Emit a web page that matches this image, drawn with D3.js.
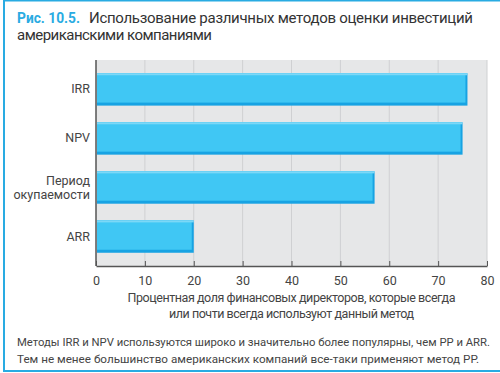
<!DOCTYPE html>
<html>
<head>
<meta charset="utf-8">
<script src="https://cdn.jsdelivr.net/npm/d3@7"></script>
<style>
body { margin: 0; background: #fff; }
text { font-family: Roboto, "Open Sans", sans-serif; }
</style>
</head>
<body>
<div id="chart"></div>
<script>
// data
const methods = ["IRR", "NPV", "Период\nокупаемости", "ARR"];
const shares = [76, 75, 57, 20];
const xTicks = [0, 10, 20, 30, 40, 50, 60, 70, 80];

const svgWidth = 500, svgHeight = 373;
const margin = {top: 60, right: 13, bottom: 107, left: 96};
const width = svgWidth - margin.left - margin.right;
const height = svgHeight - margin.top - margin.bottom;

const svg = d3.select("#chart").append("svg")
  .attr("width", svgWidth)
  .attr("height", svgHeight);

// frame
svg.append("rect").attr("x", 3).attr("y", 0).attr("width", 2).attr("height", 372).attr("fill", "#29abe2");
svg.append("rect").attr("x", 3).attr("y", 0).attr("width", 497).attr("height", 1.5).attr("fill", "#29abe2");
svg.append("rect").attr("x", 3).attr("y", 370).attr("width", 497).attr("height", 2).attr("fill", "#29abe2");

// title
svg.append("text").attr("x", 17).attr("y", 23).style("font-size", "15px")
  .attr("fill", "#29abe2").style("font-weight", "bold")
  .attr("textLength", 63).attr("lengthAdjust", "spacingAndGlyphs")
  .text("Рис. 10.5.");
svg.append("text").attr("x", 89).attr("y", 23).style("font-size", "15px").attr("fill", "#333")
  .attr("textLength", 384).attr("lengthAdjust", "spacing")
  .text("Использование различных методов оценки инвестиций");
svg.append("text").attr("x", 17).attr("y", 40).style("font-size", "15px").attr("fill", "#333")
  .attr("textLength", 195).attr("lengthAdjust", "spacing")
  .text("американскими компаниями");

const chartGroup = svg.append("g").attr("transform", `translate(${margin.left}, ${margin.top})`);

const x = d3.scaleLinear().domain([0, 80]).range([0, width]);
const y = d3.scaleBand().domain(methods).range([0, height]).paddingInner(0.34).paddingOuter(0.27);

chartGroup.append("rect").attr("width", width).attr("height", height).attr("fill", "#e6e7e8");

chartGroup.selectAll(".grid")
  .data(xTicks.slice(1))
  .enter().append("line")
  .attr("x1", d => x(d)).attr("x2", d => x(d))
  .attr("y1", 0).attr("y2", height)
  .attr("stroke", "#cfd0d2").attr("stroke-width", 1);

// bars
const bars = chartGroup.selectAll(".bar").data(methods).enter().append("g");
bars.append("rect")
  .attr("x", 1).attr("y", d => y(d))
  .attr("width", (d, i) => x(shares[i]) - 1)
  .attr("height", y.bandwidth())
  .attr("fill", "#17a3e3");
bars.append("rect")
  .attr("x", 1).attr("y", d => y(d))
  .attr("width", (d, i) => x(shares[i]) - 3)
  .attr("height", y.bandwidth() - 3)
  .attr("fill", "#40c7f4");
bars.append("rect")
  .attr("x", 1).attr("y", d => y(d))
  .attr("width", (d, i) => x(shares[i]) - 1)
  .attr("height", 2)
  .attr("fill", "#7cd8f7");

// axes
const xAxis = chartGroup.append("g")
  .attr("transform", `translate(0, ${height})`)
  .call(d3.axisBottom(x).tickValues(xTicks).tickSizeInner(-5).tickSizeOuter(0).tickPadding(10));
xAxis.select(".domain").attr("stroke", "#555").attr("stroke-width", 1.5);
xAxis.selectAll(".tick line").attr("stroke", "#555");
xAxis.selectAll(".tick text").style("font-size", "12.5px").attr("fill", "#444");

chartGroup.append("line").attr("x1", 0).attr("x2", 0).attr("y1", 0).attr("y2", height)
  .attr("stroke", "#555").attr("stroke-width", 1.5);

// category labels
chartGroup.selectAll(".cat").data(methods).enter().append("text")
  .attr("text-anchor", "end")
  .attr("fill", "#444")
  .style("font-size", "12.5px")
  .each(function(d) {
    const lines = d.split("\n");
    const cy = y(d) + y.bandwidth() / 2;
    lines.forEach((l, i) => {
      d3.select(this).append("tspan")
        .attr("x", -6)
        .attr("y", cy + 4 + (i - (lines.length - 1) / 2) * 14)
        .text(l);
    });
  });

// axis title
const axisTitle = ["Процентная доля финансовых директоров, которые всегда", "или почти всегда используют данный метод"];
const axisTitleW = [328, 245];
axisTitle.forEach((t, i) => {
  chartGroup.append("text")
    .attr("x", width / 2).attr("y", height + 36 + i * 16)
    .attr("text-anchor", "middle").attr("fill", "#444")
    .style("font-size", "12.5px")
    .attr("textLength", axisTitleW[i]).attr("lengthAdjust", "spacing")
    .text(t);
});

// footnote
const note = ["Методы IRR и NPV используются широко и значительно более популярны, чем PP и ARR.",
  "Тем не менее большинство американских компаний все-таки применяют метод PP."];
const noteW = [473, 462];
note.forEach((t, i) => {
  svg.append("text").attr("x", 17).attr("y", 346 + i * 17)
    .attr("fill", "#444").style("font-size", "11.5px")
    .attr("textLength", noteW[i]).attr("lengthAdjust", "spacingAndGlyphs")
    .text(t);
});
</script>
</body>
</html>
